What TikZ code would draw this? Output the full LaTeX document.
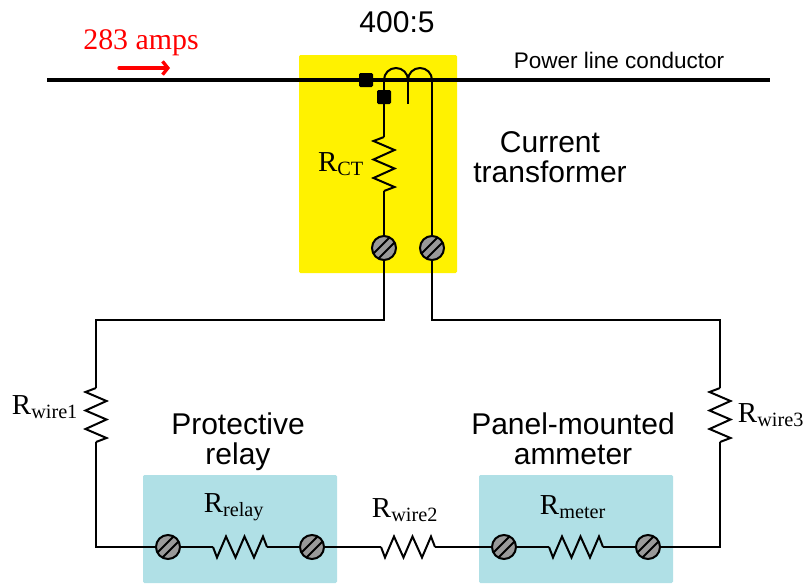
\documentclass[tikz,border=0pt]{standalone}
\usepackage{fontspec}
\setmainfont{Liberation Sans}
\newfontfamily\rmlabel{Liberation Serif}
\usetikzlibrary{arrows.meta}
\definecolor{panelblue}{RGB}{176,224,230}
\tikzset{
  wire/.style={line width=1.5pt,line join=miter},
  panel/.style={fill=#1,rounded corners=1pt,draw=none},
  terminal/.style={circle,draw,line width=1.5pt,fill=gray!80,minimum size=18pt,inner sep=0pt,
    path picture={
      \draw[line width=1.4pt] ([shift={(-14,9)}]path picture bounding box.center) -- ++(28,-28);
      \draw[line width=1.4pt] ([shift={(-9,14)}]path picture bounding box.center) -- ++(28,-28);
    }},
  blockpt/.style={rectangle,fill=black,rounded corners=1pt,minimum size=10.5pt,inner sep=0pt},
  sanslabel/.style={font=\fontsize{22.5}{22.5}\selectfont,align=center},
  rlabel/.style={font=\rmlabel\fontsize{21.7}{24}\selectfont,inner sep=0pt},
  resistor/.pic={
    \coordinate (-a) at (-27,0);
    \coordinate (-b) at (27,0);
    \draw[wire] (-a) -- (-23,10.5) -- (-14,-10.5) -- (-4.5,10.5) -- (4.5,-10.5) -- (14,10.5) -- (23,-10.5) -- (-b);
  }
}
\begin{document}
\begin{tikzpicture}[x=0.75pt,y=-0.75pt,>=Stealth]
      \useasboundingbox (0,0) rectangle (804,583);
      % Panels
      \fill[panel=yellow] (299,55) rectangle (457,273);
      \fill[panel=panelblue] (143,475) rectangle (337,583);
      \fill[panel=panelblue] (479,475) rectangle (673,583);
      % Power line
      \coordinate (lineL) at (47,80);
      \coordinate (lineR) at (770,80);
      \draw[line width=3pt] (lineL) -- (lineR);
      % Polarity marks
      \node[blockpt] (markA) at (366,80) {};
      \node[blockpt] (markB) at (384,97) {};
      % Terminals
      \node[terminal] (ctL) at (384,248) {};
      \node[terminal] (ctR) at (432,248) {};
      \node[terminal] (relayL) at (168,547) {};
      \node[terminal] (relayR) at (312,547) {};
      \node[terminal] (meterL) at (504,547) {};
      \node[terminal] (meterR) at (648,547) {};
      % Resistors
      \pic[rotate=-90] (rct) at (384,164) {resistor};
      \pic[rotate=-90] (rwa) at (96,415) {resistor};
      \pic[rotate=-90] (rwc) at (720,415) {resistor};
      \pic (rrelay) at (240,547) {resistor};
      \pic (rwb) at (408,547) {resistor};
      \pic (rmeter) at (576,547) {resistor};
      % CT winding
      \coordinate (coilL) at (384,80);
      \coordinate (coilM) at (408,80);
      \coordinate (coilR) at (432,80);
      \coordinate (coilT) at (408,104);
      \draw[wire] (coilL) arc[start angle=180,end angle=360,radius=12] arc[start angle=180,end angle=360,radius=12];
      \draw[wire] (coilM) -- (coilT);
      \draw[wire] (coilL) -- (markB) -- (rct-a);
      \draw[wire] (rct-b) -- (ctL);
      \draw[wire] (coilR) -- (ctR);
      % Loop wiring
      \draw[wire] (ctL) -- (384,320) -- (96,320) -- (rwa-a);
      \draw[wire] (ctR) -- (432,320) -- (720,320) -- (rwc-a);
      \draw[wire] (rwa-b) -- (96,547) -- (relayL);
      \draw[wire] (relayL) -- (rrelay-a);
      \draw[wire] (rrelay-b) -- (relayR);
      \draw[wire] (relayR) -- (rwb-a);
      \draw[wire] (rwb-b) -- (meterL);
      \draw[wire] (meterL) -- (rmeter-a);
      \draw[wire] (rmeter-b) -- (meterR);
      \draw[wire] (meterR) -- (720,547) -- (rwc-b);
      % Current arrow
      \coordinate (ampL) at (119,68);
      \coordinate (ampR) at (170,68);
      \draw[-{Straight Barb[length=4pt,width=10pt]},red,line width=2.5pt,line cap=round] (ampL) -- (ampR);
      % Labels
      \node[red,rlabel,font=\rmlabel\fontsize{22.4}{24}\selectfont] (amps) at (141,43) {283 amps};
      \node[sanslabel] (ratio) at (397,22) {400:5};
      \node[font=\fontsize{16.9}{18}\selectfont] (linelabel) at (619,60) {Power line conductor};
      \node[sanslabel] (ctlabel) at (550,157) {Current\\transformer};
      \node[sanslabel] (relaylabel) at (238,442) {Protective\\relay};
      \node[sanslabel] (meterlabel) at (573,439) {Panel-mounted\\ammeter};
      \node[rlabel] (rctlabel) at (341,164) {R\textsubscript{CT}};
      \node[rlabel] (rwalabel) at (45,407) {R\textsubscript{wire1}};
      \node[rlabel] (rwclabel) at (771,415) {R\textsubscript{wire3}};
      \node[rlabel] (rrelaylabel) at (234,507) {R\textsubscript{relay}};
      \node[rlabel] (rwblabel) at (405,510) {R\textsubscript{wire2}};
      \node[rlabel] (rmeterlabel) at (573,507) {R\textsubscript{meter}};
    \end{tikzpicture}
\end{document}
